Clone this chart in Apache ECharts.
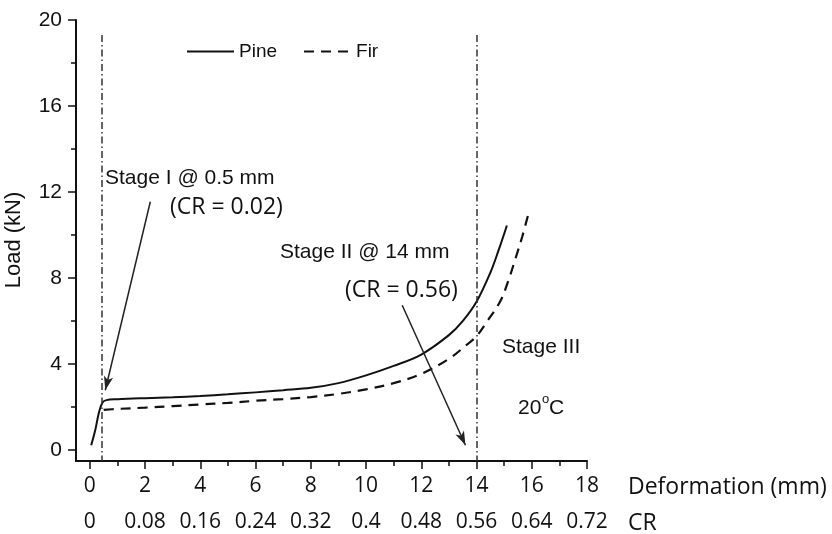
<!DOCTYPE html>
<html>
<head>
<meta charset="utf-8">
<script src="https://cdn.jsdelivr.net/npm/echarts@6/dist/echarts.min.js"></script>
<style>
  html, body { margin: 0; padding: 0; background: #fff; }
  #main { width: 832px; height: 534px; }
</style>
</head>
<body>
<div id="main"></div>
<script>
// 读图得到的数据
var pineX = [0.05, 0.2, 0.32, 0.45, 0.6, 1, 2, 3, 4, 5, 6, 7, 8, 9, 10, 11, 12, 13, 13.5, 14, 14.5, 14.8, 15.1];
var pineY = [0.23, 0.95, 1.7, 2.2, 2.33, 2.37, 2.42, 2.46, 2.52, 2.6, 2.69, 2.79, 2.9, 3.12, 3.48, 3.92, 4.45, 5.35, 6.0, 6.9, 8.25, 9.3, 10.45];
var firX = [0.5, 1, 2, 3, 4, 5, 6, 7, 8, 9, 10, 11, 12, 13, 13.7, 14, 14.33, 14.87, 15.17, 15.42, 15.66, 15.9];
var firY = [1.88, 1.92, 1.98, 2.05, 2.13, 2.2, 2.3, 2.38, 2.47, 2.62, 2.83, 3.12, 3.55, 4.25, 4.96, 5.3, 5.89, 6.95, 7.95, 8.95, 9.95, 11.1];

var xTicks = [0, 2, 4, 6, 8, 10, 12, 14, 16, 18];
var xMinor = [1, 3, 5, 7, 9, 11, 13, 15, 17];
var yTicks = [0, 4, 8, 12, 16, 20];
var yMinor = [2, 6, 10, 14, 18];

// 阶段分界线 (mm) 与箭头
var stageX = [0.45, 14];
var stageTop = 19.3;
var arrows = [
    [[2.19, 11.55], [0.56, 2.79]],
    [[11.31, 6.74], [13.6, 0.23]]
];

function zip(xs, ys) {
    return xs.map(function (x, i) { return [x, ys[i]]; });
}

var myChart = echarts.init(document.getElementById('main'));

var ink = '#111';
var sans = 'Liberation Sans';
var calib = 'Open Sans';

function majorAxis(ticks, extra) {
    return Object.assign({
        type: 'value',
        axisLine: { show: true, onZero: false, lineStyle: { color: ink, width: 2 } },
        axisTick: { show: true, customValues: ticks, length: 8, lineStyle: { color: ink, width: 1.5 } },
        splitLine: { show: false }
    }, extra);
}
function minorAxis(ticks, extra) {
    return Object.assign({
        type: 'value',
        axisLine: { show: false, onZero: false },
        axisTick: { show: true, customValues: ticks, length: 5, lineStyle: { color: ink, width: 1.5 } },
        axisLabel: { show: false },
        splitLine: { show: false }
    }, extra);
}

var stageLines = stageX.map(function (x) {
    return [{ coord: [x, stageTop] }, { coord: [x, -0.5] }];
});
var arrowLines = arrows.map(function (a) {
    return [{ coord: a[0] }, { coord: a[1] }];
});

function txt(text, x, y, font, extra) {
    return {
        type: 'text',
        style: Object.assign({
            text: text, x: x, y: y, font: font, fill: ink,
            verticalAlign: 'middle'
        }, extra || {})
    };
}

var option = {
    animation: false,
    grid: { left: 76, top: 20, right: 245, bottom: 73, containLabel: false },
    legend: {
        data: ['Pine', 'Fir'],
        left: 181, top: 37,
        itemWidth: 47, itemHeight: 14, itemGap: 26,
        itemStyle: { color: 'transparent', borderWidth: 0, opacity: 0 },
        textStyle: { fontFamily: sans, fontSize: 19, color: ink }
    },
    xAxis: [
        majorAxis(xTicks, {
            min: -0.5, max: 18, position: 'bottom',
            axisLabel: { customValues: xTicks, margin: 15, fontFamily: calib, fontSize: 21, color: ink }
        }),
        minorAxis(xMinor, { min: -0.5, max: 18, position: 'bottom' }),
        {
            type: 'value', min: -0.5, max: 18, position: 'bottom', offset: 36,
            axisLine: { show: false, onZero: false }, axisTick: { show: false }, splitLine: { show: false },
            axisLabel: {
                customValues: xTicks, margin: 15, fontFamily: calib, fontSize: 21, color: ink,
                formatter: function (v) { return String(parseFloat((v / 25).toFixed(2))); }
            }
        }
    ],
    yAxis: [
        majorAxis(yTicks, {
            min: -0.5, max: 20, position: 'left',
            axisLabel: { customValues: yTicks, margin: 14, fontFamily: sans, fontSize: 21, color: ink }
        }),
        minorAxis(yMinor, { min: -0.5, max: 20, position: 'left' })
    ],
    series: [
        {
            name: 'Pine', type: 'line', data: zip(pineX, pineY),
            symbol: 'none', smooth: 0.35,
            lineStyle: { color: ink, width: 2 },
            itemStyle: { color: ink }
        },
        {
            name: 'Fir', type: 'line', data: zip(firX, firY),
            symbol: 'none', smooth: 0.35,
            lineStyle: { color: ink, width: 2.2, type: [10, 7] },
            itemStyle: { color: ink }
        },
        {
            name: 'marks', type: 'line', data: [],
            markLine: {
                silent: true, animation: false,
                symbol: ['none', 'none'],
                label: { show: false },
                lineStyle: { color: '#333', width: 1.5, type: [7, 3, 1.5, 3] },
                data: stageLines
            }
        },
        {
            name: 'arrows', type: 'line', data: [],
            markLine: {
                silent: true, animation: false,
                symbol: ['none', 'arrow'], symbolSize: [7, 14],
                label: { show: false },
                lineStyle: { color: '#222', width: 1.5, type: 'solid' },
                data: arrowLines
            }
        }
    ],
    graphic: [
        txt('Stage I @ 0.5 mm', 105, 178, '21px ' + sans),
        txt('(CR = 0.02)', 170, 207, '23px "' + calib + '"'),
        txt('Stage II @ 14 mm', 280, 252, '21px ' + sans),
        txt('(CR = 0.56)', 345, 290, '23px "' + calib + '"'),
        txt('Stage III', 502, 347, '21px ' + sans),
        txt('20', 518, 408, '21px ' + sans),
        txt('o', 542, 399, '13px ' + sans),
        txt('C', 549, 408, '21px ' + sans),
        txt('Deformation (mm)', 628, 487, '23px "' + calib + '"'),
        txt('CR', 628, 523, '23px "' + calib + '"'),
        {
            type: 'text', x: 14, y: 240, rotation: Math.PI / 2,
            style: { text: 'Load (kN)', x: 0, y: 0, font: '22px ' + sans, fill: ink,
                     align: 'center', verticalAlign: 'middle' }
        }
    ]
};

myChart.setOption(option);

window.addEventListener('resize', function () {
    myChart.resize();
});
</script>
</body>
</html>
